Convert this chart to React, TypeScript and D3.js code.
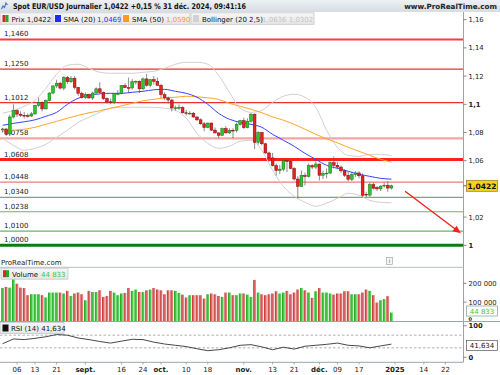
import React from "react";
import * as d3 from "d3";

// trading sessions: weekdays, without forex holidays
const firstDay = "2024-07-31";
const lastAxisDay = "2025-01-25";
const holidays = ["2024-12-25", "2025-01-01"];

const opens = [
  1.0818, 1.0825, 1.079, 1.091, 1.0955, 1.093, 1.0922, 1.092, 1.0917, 1.0932, 1.0993, 1.1013, 1.0967, 1.1027, 1.108, 1.113, 1.115, 1.1115, 1.119, 1.116, 1.1185, 1.112, 1.1078,
  1.1047, 1.107, 1.1045, 1.108, 1.111, 1.1085, 1.104, 1.1018, 1.1012, 1.1075, 1.1076, 1.1132, 1.1118, 1.1116, 1.116, 1.1163, 1.111, 1.118, 1.1135, 1.1175, 1.1163,
  1.1135, 1.1068, 1.1045, 1.103, 1.0974, 1.0975, 1.0978, 1.094, 1.0935, 1.0937, 1.091, 1.089, 1.0862, 1.0835, 1.0867, 1.0817, 1.0797, 1.078, 1.0828, 1.0797, 1.0816, 1.0815, 1.0856,
  1.0884, 1.0834, 1.088, 1.093, 1.073, 1.08, 1.072, 1.0655, 1.062, 1.0565, 1.053, 1.054, 1.06, 1.0595, 1.0545, 1.047, 1.0418, 1.0495, 1.0488, 1.0565, 1.0555,
  1.0576, 1.0497, 1.051, 1.0512, 1.0586, 1.0567, 1.0555, 1.0528, 1.0497, 1.0468, 1.0502, 1.0513, 1.0493, 1.0362, 1.0356, 1.043, 1.041, 1.04, 1.042, 1.0426, 1.0406,
];
const highs = [
  1.0834, 1.083, 1.0926, 1.1, 1.0965, 1.095, 1.0945, 1.0935, 1.0945, 1.0995, 1.1047, 1.102, 1.1035, 1.1085, 1.1135, 1.1175, 1.116, 1.12, 1.12, 1.12, 1.12, 1.1125, 1.109,
  1.1085, 1.1075, 1.109, 1.112, 1.1155, 1.109, 1.105, 1.104, 1.108, 1.11, 1.1135, 1.115, 1.119, 1.118, 1.117, 1.117, 1.119, 1.1215, 1.118, 1.12, 1.119,
  1.1145, 1.1085, 1.1055, 1.104, 1.099, 1.1, 1.0985, 1.096, 1.095, 1.0945, 1.0915, 1.09, 1.0875, 1.087, 1.087, 1.0835, 1.08, 1.0835, 1.0845, 1.083, 1.083, 1.087, 1.089,
  1.0905, 1.09, 1.0937, 1.0935, 1.081, 1.0805, 1.0725, 1.0665, 1.0655, 1.058, 1.057, 1.061, 1.061, 1.061, 1.0555, 1.049, 1.053, 1.0515, 1.058, 1.0575, 1.0595,
  1.058, 1.053, 1.0545, 1.0595, 1.063, 1.059, 1.0565, 1.054, 1.052, 1.052, 1.0525, 1.0525, 1.051, 1.038, 1.0445, 1.0445, 1.042, 1.0425, 1.0445, 1.0455, 1.043,
];
const lows = [
  1.08, 1.0777, 1.0778, 1.09, 1.091, 1.091, 1.09, 1.0905, 1.091, 1.0925, 1.098, 1.095, 1.0965, 1.102, 1.107, 1.1115, 1.1105, 1.11, 1.1145, 1.115, 1.1105, 1.106, 1.104,
  1.104, 1.104, 1.103, 1.1075, 1.1075, 1.103, 1.1005, 1.1, 1.1, 1.1065, 1.107, 1.1115, 1.108, 1.1105, 1.114, 1.108, 1.11, 1.1125, 1.112, 1.114, 1.113,
  1.1045, 1.103, 1.1005, 1.095, 1.0955, 1.096, 1.0935, 1.092, 1.0925, 1.0905, 1.088, 1.0855, 1.081, 1.083, 1.081, 1.0795, 1.076, 1.0775, 1.0795, 1.079, 1.076, 1.08, 1.085,
  1.0825, 1.083, 1.087, 1.0683, 1.0715, 1.071, 1.065, 1.0595, 1.056, 1.0495, 1.0505, 1.0525, 1.052, 1.054, 1.046, 1.0333, 1.0415, 1.0425, 1.048, 1.054, 1.054,
  1.046, 1.047, 1.0475, 1.0505, 1.0545, 1.054, 1.0515, 1.0485, 1.0455, 1.0455, 1.0485, 1.0475, 1.0343, 1.0343, 1.0345, 1.0395, 1.0385, 1.0385, 1.041, 1.038, 1.0395,
];
const closes = [
  1.0825, 1.079, 1.091, 1.0955, 1.093, 1.0922, 1.092, 1.0917, 1.0932, 1.0993, 1.1013, 1.0967, 1.1027, 1.108, 1.113, 1.115, 1.1115, 1.119, 1.116, 1.1185, 1.112, 1.1078, 1.1047,
  1.107, 1.1045, 1.108, 1.111, 1.1085, 1.104, 1.1018, 1.1012, 1.1075, 1.1076, 1.1132, 1.1118, 1.1116, 1.116, 1.1163, 1.111, 1.118, 1.1135, 1.1175, 1.1163, 1.1135,
  1.1068, 1.1045, 1.103, 1.0974, 1.0975, 1.0978, 1.094, 1.0935, 1.0937, 1.091, 1.089, 1.0862, 1.0835, 1.0867, 1.0817, 1.0797, 1.078, 1.0828, 1.0797, 1.0816, 1.0815, 1.0856, 1.0884,
  1.0834, 1.088, 1.093, 1.073, 1.08, 1.072, 1.0655, 1.062, 1.0565, 1.053, 1.054, 1.06, 1.0595, 1.0545, 1.047, 1.0418, 1.0495, 1.0488, 1.0565, 1.0555, 1.0576,
  1.0497, 1.051, 1.0512, 1.0586, 1.0567, 1.0555, 1.0528, 1.0497, 1.0468, 1.0502, 1.0513, 1.0493, 1.0355, 1.0356, 1.043, 1.0405, 1.04, 1.042, 1.0426, 1.0406, 1.0422,
];
const volumes = [
  175000, 181000, 177000, 225000, 198000, 177000, 175000, 137000, 142000, 142000, 142000, 137000, 125000, 151000, 151000, 151000, 151000, 146000, 160000, 133000, 146000, 151000, 142000,
  110000, 160000, 154000, 154000, 163000, 128000, 133000, 160000, 151000, 137000, 146000, 149000, 175000, 160000, 167000, 154000, 154000, 163000, 167000, 175000, 167000,
  163000, 142000, 163000, 163000, 160000, 149000, 140000, 125000, 137000, 137000, 137000, 137000, 119000, 142000, 146000, 142000, 133000, 128000, 151000, 151000, 137000, 137000, 146000,
  146000, 140000, 128000, 218000, 151000, 142000, 137000, 142000, 146000, 158000, 146000, 151000, 160000, 142000, 151000, 167000, 175000, 163000, 151000, 123000, 158000,
  175000, 151000, 151000, 146000, 140000, 146000, 146000, 158000, 158000, 142000, 142000, 142000, 151000, 167000, 160000, 137000, 98000, 110000, 116000, 132000, 44833,
];

// indicators read every 3rd session
const indicatorStep = 3;
const sma20 = [
  1.0851, 1.0865, 1.0876, 1.089, 1.0915, 1.0943, 1.1, 1.1043, 1.1064, 1.1074, 1.1078, 1.1078, 1.1085, 1.1092, 1.1103, 1.1106, 1.1092, 1.1078, 1.105,
  1.1, 1.0936, 1.0894, 1.0872, 1.0858, 1.0837, 1.0787, 1.0745, 1.0702, 1.0652, 1.061, 1.0567, 1.0546, 1.0525, 1.0504, 1.0489, 1.0475, 1.0469,
];
const sma50 = [
  1.0809, 1.0816, 1.0823, 1.0837, 1.0858, 1.0879, 1.0901, 1.0922, 1.094, 1.0954, 1.0972, 1.0989, 1.1007, 1.1025, 1.1035, 1.1046, 1.105, 1.1057, 1.1053,
  1.1046, 1.1035, 1.1007, 1.0986, 1.0965, 1.094, 1.0911, 1.0887, 1.0858, 1.0823, 1.0787, 1.0755, 1.0727, 1.0695, 1.0667, 1.0638, 1.061, 1.059,
];
const bollingerUp = [
  1.0936, 1.0957, 1.0986, 1.1028, 1.1113, 1.1213, 1.1277, 1.1284, 1.1255, 1.1227, 1.122, 1.122, 1.122, 1.1227, 1.1234, 1.1255, 1.1284, 1.1298, 1.1298,
  1.1284, 1.1206, 1.1085, 1.0972, 1.0943, 1.0957, 1.1014, 1.1057, 1.1071, 1.105, 1.0979, 1.0816, 1.0695, 1.0638, 1.0631, 1.0645, 1.0645, 1.0636,
];
const bollingerDown = [
  1.0759, 1.0709, 1.0674, 1.0688, 1.0716, 1.0766, 1.0816, 1.0872, 1.0908, 1.0943, 1.0972, 1.0979, 1.0979, 1.0979, 1.0979, 1.0972, 1.0957, 1.0901, 1.0794,
  1.0723, 1.0688, 1.0702, 1.0738, 1.0745, 1.0674, 1.0532, 1.0418, 1.0348, 1.0305, 1.0277, 1.0298, 1.0333, 1.0369, 1.0355, 1.0319, 1.0305, 1.0302,
];
const rsi = [
  43, 58, 56, 60, 65, 72, 70, 61, 56, 50, 45, 51, 57, 56, 48, 42, 38, 34, 27,
  21, 24, 30, 38, 40, 33, 24, 32, 26, 35, 38, 41, 45, 38, 36, 30, 36, 41.634,
];

const levels = [1.146, 1.125, 1.1012, 1.0758, 1.0608, 1.0448, 1.034, 1.0238, 1.01, 1.0];
const priceTicks = [1.16, 1.14, 1.12, 1.1, 1.08, 1.06, 1.02, 1.0];
const volumeTicks = [200000, 100000];
const rsiTicks = [100, 0];
const rsiBands = [70, 30];
const tickDates = [
  "2024-08-06", "2024-08-13", "2024-08-21", "2024-09-02", "2024-09-16", "2024-09-24", "2024-10-01", "2024-10-10", "2024-10-18",
  "2024-11-01", "2024-11-13", "2024-11-21", "2024-12-02", "2024-12-09", "2024-12-17", "2025-01-02", "2025-01-14", "2025-01-22",
];
const tickLabels = ["06", "13", "21", "sept.", "16", "24", "oct.", "10", "18", "nov.", "13", "21", "déc.", "09", "17", "2025", "14", "22"];
// hand drawn trend arrow: [session index, price]
const trendArrow = [[111.8, 1.0383], [127.3, 1.0085]];

const fmtDay = d3.timeFormat("%Y-%m-%d");
const parseDay = d3.timeParse("%Y-%m-%d");
const sessions = d3
  .timeDays(parseDay(firstDay)!, parseDay(lastAxisDay)!)
  .filter((d) => d.getDay() !== 0 && d.getDay() !== 6 && !holidays.includes(fmtDay(d)))
  .map(fmtDay);

const comma = (v: number, d: number) => v.toFixed(d).replace(".", ",");
const spaced = (v: number) => d3.format(",")(v).replace(/,/g, " ");

const FONT = "DejaVu Sans, Verdana, sans-serif";

export default function App() {
  const x = d3.scaleLinear().domain([0, closes.length - 1]).range([2.6, 391.4]);
  const y = d3.scaleLinear().domain([1.0, 1.16]).range([245.3, 19.7]);
  const yVol = d3.scaleLinear().domain([0, 200000]).range([321, 283.3]);
  const yRsi = d3.scaleLinear().domain([0, 100]).range([357.3, 325.7]);
  const axisX = 463.5;

  const line = d3
    .line<number>()
    .x((_, i) => x(i * indicatorStep))
    .y((d) => y(d))
    .curve(d3.curveMonotoneX);
  const rsiLine = d3
    .line<number>()
    .x((_, i) => x(i * indicatorStep))
    .y((d) => yRsi(d));

  const levelStyle = (v: number) => {
    if (v === 1.0608) return { c: "#ff1f1f", w: 3 };
    if (v === 1.146) return { c: "#ff3b3b", w: 2 };
    if (v === 1.0758) return { c: "#f5a5a5", w: 2.2 };
    if (v === 1.0448) return { c: "#f27a7a", w: 1.2 };
    if (v === 1.0) return { c: "#0b7d0b", w: 3 };
    if (v < 1.04) return { c: "#62b862", w: 1.2 };
    return { c: "#ea3030", w: 1.2 };
  };

  const last = closes.length - 1;
  const arrowA = { x: x(trendArrow[0][0]), y: y(trendArrow[0][1]) };
  const arrowB = { x: x(trendArrow[1][0]), y: y(trendArrow[1][1]) };
  const ang = Math.atan2(arrowB.y - arrowA.y, arrowB.x - arrowA.x);
  const head = [0, 1, -1].map((s) =>
    s === 0
      ? [arrowB.x, arrowB.y]
      : [arrowB.x - 8 * Math.cos(ang) + s * 3.5 * Math.sin(ang), arrowB.y - 8 * Math.sin(ang) - s * 3.5 * Math.cos(ang)]
  );

  const legendBox = (bx: number, w: number, by: number, h: number) => (
    <rect x={bx} y={by} width={w} height={h} fill="url(#legendGrad)" stroke="#c3c7cc" strokeWidth={0.8} />
  );

  return (
    <svg width={500} height={375} style={{ position: "absolute", left: 0, top: 0 }} fontFamily={FONT}>
      <defs>
        <linearGradient id="headGrad" x1="0" y1="0" x2="0" y2="1">
          <stop offset="0" stopColor="#eef1f4" />
          <stop offset="1" stopColor="#d6dce2" />
        </linearGradient>
        <linearGradient id="legendGrad" x1="0" y1="0" x2="0" y2="1">
          <stop offset="0" stopColor="#f7f7f7" />
          <stop offset="1" stopColor="#e6e6e6" />
        </linearGradient>
        <linearGradient id="volUp" x1="0" y1="0" x2="1" y2="0">
          <stop offset="0" stopColor="#1fa51f" />
          <stop offset="1" stopColor="#66dd66" />
        </linearGradient>
        <linearGradient id="volDown" x1="0" y1="0" x2="1" y2="0">
          <stop offset="0" stopColor="#c42c2c" />
          <stop offset="1" stopColor="#ec9a9a" />
        </linearGradient>
      </defs>
      <rect width={500} height={375} fill="#ffffff" />

      {/* header */}
      <rect x={0} y={0} width={500} height={12} fill="url(#headGrad)" />
      <path d="M1.5,9 L3,6 L4.5,7.5 L6,3 L7.5,5" fill="none" stroke="#3a7bd5" strokeWidth={1.2} />
      <text x={13} y={9} fontSize={7.8} fontWeight="bold" fill="#111" textLength={233} lengthAdjust="spacingAndGlyphs">
        Spot EUR/USD Journalier 1,0422 +0,15 % 31 déc. 2024, 09:41:16
      </text>
      <text x={497} y={9} fontSize={7.2} fontWeight="bold" fill="#222" textAnchor="end">
        www.ProRealTime.com
      </text>

      {/* legend */}
      {legendBox(0, 52, 12.8, 11.5)}
      <rect x={2.5} y={15} width={3} height={7} fill="#d42a2a" />
      <rect x={5.5} y={15} width={3} height={7} fill="#2aa52a" />
      <text x={11.5} y={21.8} fontSize={7} fill="#111">Prix 1,0422</text>
      {legendBox(53, 67, 12.8, 11.5)}
      <rect x={55} y={15} width={6} height={7} fill="#1f2bff" />
      <text x={63.5} y={21.8} fontSize={7} fill="#111">SMA (20)</text>
      <text x={97} y={21.8} fontSize={7} fill="#2233ff">{comma(sma20[sma20.length - 1], 4)}</text>
      {legendBox(121, 69, 12.8, 11.5)}
      <rect x={123} y={15} width={6} height={7} fill="#ff9a1a" />
      <text x={132} y={21.8} fontSize={7} fill="#111">SMA (50)</text>
      <text x={166} y={21.8} fontSize={7} fill="#ff9a1a">{comma(sma50[sma50.length - 1], 4)}</text>
      {legendBox(191, 123, 12.8, 11.5)}
      <rect x={193} y={15} width={6} height={7} fill="#d2d2d2" />
      <text x={202} y={21.8} fontSize={7} fill="#111">Bollinger (20 2,5)</text>
      <text x={262} y={21.8} fontSize={7} fill="#c4c4c4">
        {comma(bollingerUp[bollingerUp.length - 1], 4)} {comma(bollingerDown[bollingerDown.length - 1], 4)}
      </text>

      {/* support / resistance levels */}
      {levels.map((v) => {
        const s = levelStyle(v);
        return (
          <g key={v}>
            <line x1={0} x2={axisX} y1={y(v)} y2={y(v)} stroke={s.c} strokeWidth={s.w} />
            <text x={4} y={y(v) - 3} fontSize={7} fill="#222">
              {comma(v, 4)}
            </text>
          </g>
        );
      })}

      {/* bollinger + moving averages */}
      <path d={line(bollingerUp) || ""} fill="none" stroke="#d0d0d0" strokeWidth={1} />
      <path d={line(bollingerDown) || ""} fill="none" stroke="#d0d0d0" strokeWidth={1} />
      <path d={line(sma50) || ""} fill="none" stroke="#ffa52a" strokeWidth={1} />
      <path d={line(sma20) || ""} fill="none" stroke="#3344ff" strokeWidth={1} />

      {/* candles */}
      {closes.map((c, i) => {
        const up = c >= opens[i];
        const top = y(Math.max(c, opens[i]));
        const bot = y(Math.min(c, opens[i]));
        return (
          <g key={i}>
            <line x1={x(i)} x2={x(i)} y1={y(highs[i])} y2={y(lows[i])} stroke="#5a5a5a" strokeWidth={0.7} />
            <rect
              x={x(i) - 1.4}
              y={top}
              width={2.8}
              height={Math.max(bot - top, 0.8)}
              fill={up ? "#2ec42e" : "#e32222"}
              stroke={up ? "#1b6e1b" : "#7d1010"}
              strokeWidth={0.5}
            />
          </g>
        );
      })}

      {/* trend arrow */}
      <line x1={arrowA.x} y1={arrowA.y} x2={arrowB.x - 5 * Math.cos(ang)} y2={arrowB.y - 5 * Math.sin(ang)} stroke="#ee2222" strokeWidth={1.4} />
      <polygon points={head.map((p) => p.join(",")).join(" ")} fill="#ee2222" />

      {/* right axis */}
      <line x1={axisX} x2={axisX} y1={12} y2={362} stroke="#9aa4ae" strokeWidth={1} />
      {priceTicks.map((v) => {
        const round = Math.abs(v * 10 - Math.round(v * 10)) < 1e-9;
        return (
          <g key={v}>
            <line x1={axisX} x2={axisX + 3} y1={y(v)} y2={y(v)} stroke="#666" strokeWidth={0.8} />
            <text x={468.5} y={y(v) + 2.5} fontSize={6.8} fill="#222" fontWeight={round ? "bold" : "normal"}>
              {d3.format("~g")(v).replace(".", ",")}
            </text>
          </g>
        );
      })}
      <line x1={axisX} x2={axisX + 3} y1={y(closes[last])} y2={y(closes[last])} stroke="#333" strokeWidth={0.8} />
      <rect x={466.5} y={y(closes[last]) - 5.5} width={31} height={11} fill="#f7d21c" stroke="#8a7a20" strokeWidth={0.7} />
      <text x={482} y={y(closes[last]) + 3} fontSize={7.5} fontWeight="bold" textAnchor="middle" fill="#111">
        {comma(closes[last], 4)}
      </text>

      {/* lower panels */}
      <text x={1} y={265} fontSize={7} fill="#222">ProRealTime.com</text>
      <rect x={386.5} y={257.5} width={6} height={7} fill="#f4f4f4" stroke="#9a9a9a" strokeWidth={0.6} />
      <text x={389.5} y={263.3} fontSize={5.5} textAnchor="middle" fill="#666">i</text>
      <line x1={0} x2={axisX} y1={267.3} y2={267.3} stroke="#b3bcc6" strokeWidth={1} />
      <line x1={0} x2={500} y1={321.5} y2={321.5} stroke="#9aa4ae" strokeWidth={1} />
      <line x1={0} x2={axisX} y1={362.3} y2={362.3} stroke="#9aa4ae" strokeWidth={1} />

      {/* volume */}
      {volumes.map((v, i) => (
        <rect
          key={i}
          x={x(i) - 1.4}
          y={yVol(v)}
          width={2.8}
          height={yVol(0) - yVol(v)}
          fill={closes[i] >= opens[i] ? "url(#volUp)" : "url(#volDown)"}
        />
      ))}
      {legendBox(1, 67, 268.2, 11)}
      <rect x={3} y={270.2} width={3} height={7} fill="#d42a2a" />
      <rect x={6} y={270.2} width={3} height={7} fill="#2aa52a" />
      <text x={12} y={277} fontSize={7} fill="#111">Volume</text>
      <text x={41} y={277} fontSize={7} fill="#3cc43c">{spaced(volumes[last])}</text>
      {volumeTicks.map((v) => (
        <g key={v}>
          <line x1={axisX} x2={axisX + 3} y1={yVol(v)} y2={yVol(v)} stroke="#666" strokeWidth={0.8} />
          <text x={468.5} y={yVol(v) + 2.5} fontSize={6.8} fill="#222">{spaced(v)}</text>
        </g>
      ))}
      <text x={468.5} y={321} fontSize={5} fill="#222" fontWeight="bold">0</text>
      <rect x={466.5} y={306} width={31} height={10} fill="#ffffff" stroke="#8c959e" strokeWidth={0.7} />
      <text x={482} y={313.7} fontSize={7} textAnchor="middle" fill="#3cc43c">{spaced(volumes[last])}</text>

      {/* RSI */}
      {rsiBands.map((b) => (
        <line key={b} x1={0} x2={axisX} y1={yRsi(b)} y2={yRsi(b)} stroke="#9a9a9a" strokeWidth={0.8} strokeDasharray="2.5,2" />
      ))}
      <path d={rsiLine(rsi) || ""} fill="none" stroke="#333" strokeWidth={0.9} />
      {legendBox(0, 64, 322.5, 11)}
      <rect x={2.5} y={324.5} width={6} height={7} fill="#111" />
      <text x={11} y={331.3} fontSize={7} fill="#111">RSI (14) {comma(rsi[rsi.length - 1], 3)}</text>
      {rsiTicks.map((v) => (
        <g key={v}>
          <line x1={axisX} x2={axisX + 3} y1={yRsi(v)} y2={yRsi(v)} stroke="#666" strokeWidth={0.8} />
          <text x={468.5} y={yRsi(v) + 2.5} fontSize={6.8} fill="#222" fontWeight="bold">{v}</text>
        </g>
      ))}
      <rect x={466.5} y={340.5} width={31} height={10} fill="#ffffff" stroke="#555" strokeWidth={0.7} />
      <text x={482} y={348} fontSize={7} textAnchor="middle" fill="#111">{comma(rsi[rsi.length - 1], 3)}</text>

      {/* time axis */}
      {tickDates.map((d, i) => {
        const idx = sessions.indexOf(d);
        const bold = isNaN(+tickLabels[i]) || tickLabels[i].length === 4;
        return (
          <g key={d}>
            <line x1={x(idx)} x2={x(idx)} y1={362.3} y2={364.5} stroke="#888" strokeWidth={0.7} />
            <text x={x(idx)} y={371.5} fontSize={7} textAnchor="middle" fill="#222" fontWeight={bold ? "bold" : "normal"}>
              {tickLabels[i]}
            </text>
          </g>
        );
      })}
    </svg>
  );
}
